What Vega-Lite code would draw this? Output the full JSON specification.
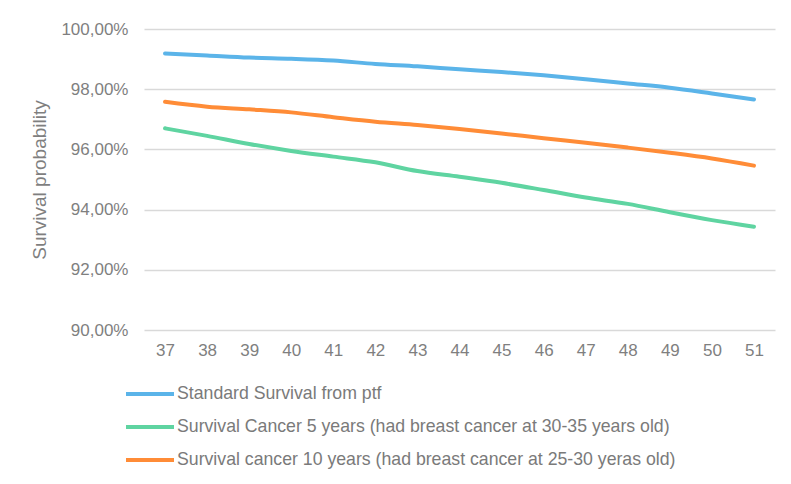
{
  "$schema": "https://vega.github.io/schema/vega-lite/v6.json",
  "autosize": {"type": "none"},
  "padding": {"left": 144, "top": 29, "right": 16, "bottom": 155},
  "width": 631,
  "height": 301,
  "background": "white",
  "config": {
    "locale": {"number": {"decimal": ",", "thousands": ".", "grouping": [3], "currency": ["", " €"]}},
    "view": {"stroke": null},
    "font": "Liberation Sans"
  },
  "data": {
    "values": [
      {"age": 37, "series": "Standard Survival from ptf", "p": 0.9919},
      {"age": 38, "series": "Standard Survival from ptf", "p": 0.9912},
      {"age": 39, "series": "Standard Survival from ptf", "p": 0.9905},
      {"age": 40, "series": "Standard Survival from ptf", "p": 0.9901},
      {"age": 41, "series": "Standard Survival from ptf", "p": 0.9895},
      {"age": 42, "series": "Standard Survival from ptf", "p": 0.9884},
      {"age": 43, "series": "Standard Survival from ptf", "p": 0.9876},
      {"age": 44, "series": "Standard Survival from ptf", "p": 0.9866},
      {"age": 45, "series": "Standard Survival from ptf", "p": 0.9857},
      {"age": 46, "series": "Standard Survival from ptf", "p": 0.9846},
      {"age": 47, "series": "Standard Survival from ptf", "p": 0.9833},
      {"age": 48, "series": "Standard Survival from ptf", "p": 0.9819},
      {"age": 49, "series": "Standard Survival from ptf", "p": 0.9805},
      {"age": 50, "series": "Standard Survival from ptf", "p": 0.9786},
      {"age": 51, "series": "Standard Survival from ptf", "p": 0.9766},
      {"age": 37, "series": "Survival Cancer 5 years (had breast cancer at 30-35 years old)", "p": 0.9670},
      {"age": 38, "series": "Survival Cancer 5 years (had breast cancer at 30-35 years old)", "p": 0.9645},
      {"age": 39, "series": "Survival Cancer 5 years (had breast cancer at 30-35 years old)", "p": 0.9618},
      {"age": 40, "series": "Survival Cancer 5 years (had breast cancer at 30-35 years old)", "p": 0.9595},
      {"age": 41, "series": "Survival Cancer 5 years (had breast cancer at 30-35 years old)", "p": 0.9576},
      {"age": 42, "series": "Survival Cancer 5 years (had breast cancer at 30-35 years old)", "p": 0.9557},
      {"age": 43, "series": "Survival Cancer 5 years (had breast cancer at 30-35 years old)", "p": 0.9528},
      {"age": 44, "series": "Survival Cancer 5 years (had breast cancer at 30-35 years old)", "p": 0.9509},
      {"age": 45, "series": "Survival Cancer 5 years (had breast cancer at 30-35 years old)", "p": 0.9489},
      {"age": 46, "series": "Survival Cancer 5 years (had breast cancer at 30-35 years old)", "p": 0.9465},
      {"age": 47, "series": "Survival Cancer 5 years (had breast cancer at 30-35 years old)", "p": 0.9440},
      {"age": 48, "series": "Survival Cancer 5 years (had breast cancer at 30-35 years old)", "p": 0.9419},
      {"age": 49, "series": "Survival Cancer 5 years (had breast cancer at 30-35 years old)", "p": 0.9391},
      {"age": 50, "series": "Survival Cancer 5 years (had breast cancer at 30-35 years old)", "p": 0.9365},
      {"age": 51, "series": "Survival Cancer 5 years (had breast cancer at 30-35 years old)", "p": 0.9343},
      {"age": 37, "series": "Survival cancer 10 years (had breast cancer at 25-30 yeras old)", "p": 0.9758},
      {"age": 38, "series": "Survival cancer 10 years (had breast cancer at 25-30 yeras old)", "p": 0.9742},
      {"age": 39, "series": "Survival cancer 10 years (had breast cancer at 25-30 yeras old)", "p": 0.9733},
      {"age": 40, "series": "Survival cancer 10 years (had breast cancer at 25-30 yeras old)", "p": 0.9723},
      {"age": 41, "series": "Survival cancer 10 years (had breast cancer at 25-30 yeras old)", "p": 0.9707},
      {"age": 42, "series": "Survival cancer 10 years (had breast cancer at 25-30 yeras old)", "p": 0.9692},
      {"age": 43, "series": "Survival cancer 10 years (had breast cancer at 25-30 yeras old)", "p": 0.9681},
      {"age": 44, "series": "Survival cancer 10 years (had breast cancer at 25-30 yeras old)", "p": 0.9668},
      {"age": 45, "series": "Survival cancer 10 years (had breast cancer at 25-30 yeras old)", "p": 0.9653},
      {"age": 46, "series": "Survival cancer 10 years (had breast cancer at 25-30 yeras old)", "p": 0.9637},
      {"age": 47, "series": "Survival cancer 10 years (had breast cancer at 25-30 yeras old)", "p": 0.9622},
      {"age": 48, "series": "Survival cancer 10 years (had breast cancer at 25-30 yeras old)", "p": 0.9606},
      {"age": 49, "series": "Survival cancer 10 years (had breast cancer at 25-30 yeras old)", "p": 0.9589},
      {"age": 50, "series": "Survival cancer 10 years (had breast cancer at 25-30 yeras old)", "p": 0.9570},
      {"age": 51, "series": "Survival cancer 10 years (had breast cancer at 25-30 yeras old)", "p": 0.9546}
    ]
  },
  "mark": {"type": "line", "strokeWidth": 4, "strokeCap": "round", "interpolate": "monotone"},
  "encoding": {
    "x": {
      "field": "age", "type": "ordinal",
      "scale": {"type": "point", "padding": 0.5},
      "axis": {
        "title": null, "labelAngle": 0, "grid": false, "ticks": false, "domain": false,
        "labelFontSize": 17, "labelColor": "#7f7f7f", "labelPadding": 12
      }
    },
    "y": {
      "field": "p", "type": "quantitative",
      "scale": {"domain": [0.9, 1.0], "nice": false, "zero": false},
      "axis": {
        "title": "Survival probability", "format": ".2%", "values": [0.9, 0.92, 0.94, 0.96, 0.98, 1.0],
        "ticks": false, "domain": false, "grid": true, "gridColor": "#d9d9d9", "gridWidth": 1.3,
        "labelFontSize": 17, "labelColor": "#7f7f7f", "labelPadding": 16,
        "titleFontSize": 19, "titleFontWeight": "normal", "titleColor": "#7f7f7f", "titlePadding": 11
      }
    },
    "color": {
      "field": "series", "type": "nominal",
      "scale": {
        "domain": ["Standard Survival from ptf", "Survival Cancer 5 years (had breast cancer at 30-35 years old)", "Survival cancer 10 years (had breast cancer at 25-30 yeras old)"],
        "range": ["#5bb4e9", "#5fd4a1", "#ff8c37"]
      },
      "legend": {
        "title": null, "orient": "none", "legendX": -12, "legendY": 347,
        "symbolType": "M-1.5,0H1.5", "symbolSize": 1024, "symbolStrokeWidth": 4, "symbolStrokeCap": "round",
        "labelFontSize": 17.7, "labelColor": "#7a7a7a", "labelOffset": 9, "rowPadding": 6, "labelLimit": 700
      }
    }
  }
}
